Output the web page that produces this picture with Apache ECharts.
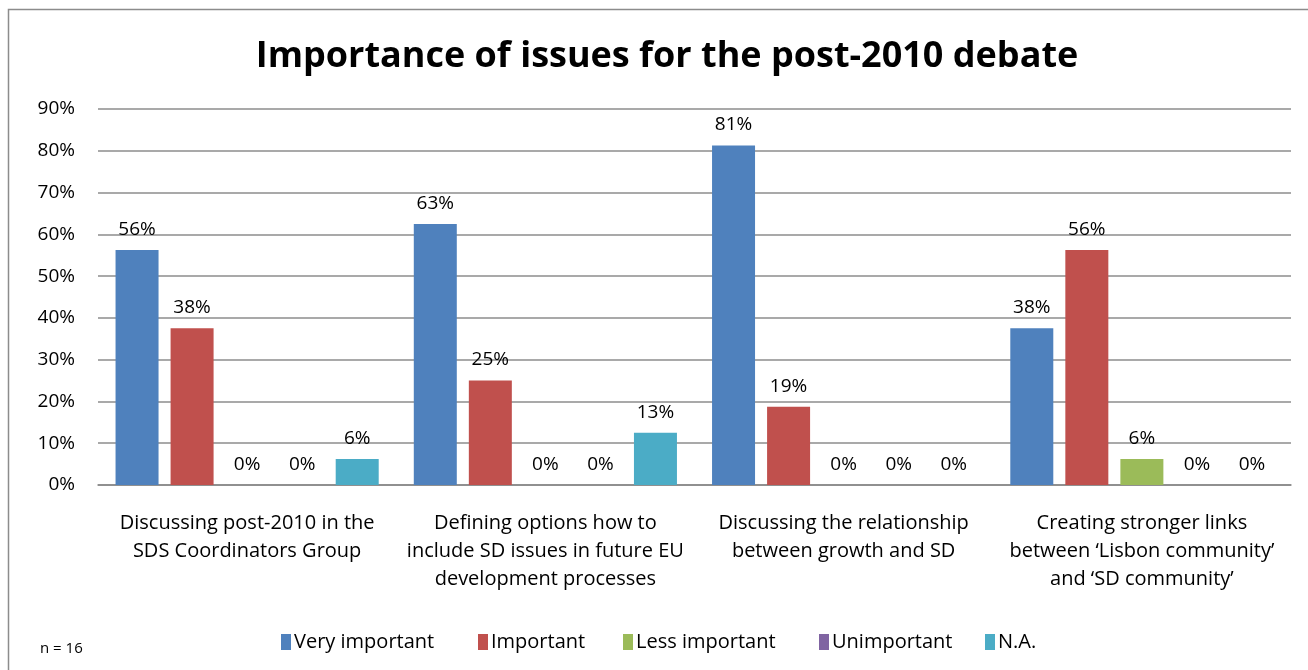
<!DOCTYPE html>
<html><head><meta charset="utf-8">
<script src="https://cdn.jsdelivr.net/npm/echarts@6/dist/echarts.min.js"></script>
<style>html,body{margin:0;padding:0;background:#fff}#c{width:1308px;height:670px}</style>
</head><body><div id="c"></div>
<script>
var categories = [
  "Discussing post-2010 in the\nSDS Coordinators Group",
  "Defining options how to\ninclude SD issues in future EU\ndevelopment processes",
  "Discussing the relationship\nbetween growth and SD",
  "Creating stronger links\nbetween \u2018Lisbon community\u2019\nand \u2018SD community\u2019"
];
var seriesNames = ["Very important", "Important", "Less important", "Unimportant", "N.A."];
var veryImportant = [56.25, 62.5, 81.25, 37.5];
var important = [37.5, 25, 18.75, 56.25];
var lessImportant = [0, 0, 0, 6.25];
var unimportant = [0, 0, 0, 0];
var na = [6.25, 12.5, 0, 0];
var colors = ["#4F81BD", "#C0504D", "#9BBB59", "#8064A2", "#4BACC6"];
var yTicks = [0, 10, 20, 30, 40, 50, 60, 70, 80, 90];

var font = "'Open Sans', 'Noto Sans', sans-serif";
var data = [veryImportant, important, lessImportant, unimportant, na];
var legendLefts = [281, 478, 623, 819, 985];
var chart = echarts.init(document.getElementById('c'));
chart.setOption({
  animation: false,
  textStyle: {fontFamily: font},
  title: {
    text: "Importance of issues for the post-2010 debate",
    left: 662, top: 34, textAlign: 'center',
    textStyle: {fontSize: 36, fontWeight: 'bold', color: '#000', fontFamily: font}
  },
  graphic: [
    {type: 'rect', shape: {x: 8.5, y: 9.5, width: 1320, height: 700}, style: {fill: 'none', stroke: '#8c8c8c', lineWidth: 1.5}},
    {type: 'text', left: 40, top: 641, style: {text: 'n = 16', fontSize: 15, fill: '#000', fontFamily: font}}
  ],
  legend: seriesNames.map(function (n, i) {
    return {
      data: [n], left: legendLefts[i], top: 632, padding: 0,
      itemWidth: 10, itemHeight: 16, itemGap: 0,
      icon: 'rect',
      textStyle: {fontSize: 20, color: '#000', fontFamily: font, padding: [0, 0, 0, -2]}
    };
  }),
  grid: {left: 98, right: 17, top: 109, bottom: 185, containLabel: false},
  xAxis: {
    type: 'category', data: categories,
    axisTick: {show: false},
    axisLine: {lineStyle: {color: '#888', width: 1.5}},
    axisLabel: {fontSize: 20, color: '#000', lineHeight: 28, margin: 24, interval: 0, fontFamily: font}
  },
  yAxis: {
    type: 'value', min: 0, max: 90, interval: 10,
    axisLine: {show: false}, axisTick: {show: false},
    splitLine: {lineStyle: {color: '#8c8c8c', width: 1.5}},
    axisLabel: {fontSize: 19, color: '#000', margin: 23, fontFamily: font,
      formatter: function (v) { return yTicks.indexOf(v) >= 0 ? v + '%' : ''; }}
  },
  series: seriesNames.map(function (n, i) {
    return {
      name: n, type: 'bar', data: data[i], barWidth: 43, barGap: '28%',
      itemStyle: {color: colors[i]},
      label: {show: true, position: 'top', distance: 11, fontSize: 19, color: '#000', fontFamily: font,
        formatter: function (p) { return Math.round(p.value) + '%'; }}
    };
  })
});
</script></body></html>
